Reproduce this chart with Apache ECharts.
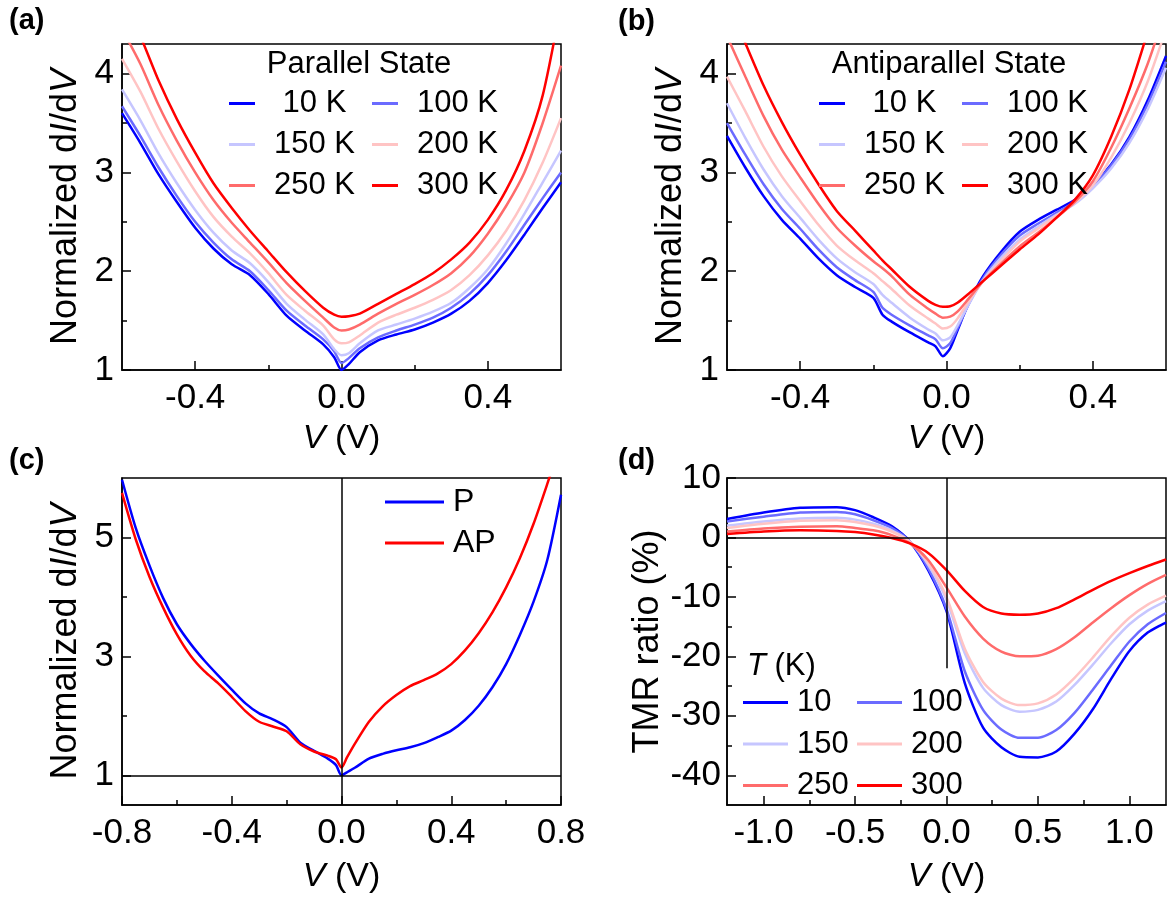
<!DOCTYPE html>
<html><head><meta charset="utf-8">
<script src="https://cdn.jsdelivr.net/npm/echarts@6/dist/echarts.min.js"></script>
<style>html,body{margin:0;padding:0;background:#fff}#c{width:1168px;height:902px}</style>
</head><body><div id="c"></div>
<script>
// ---------- data ----------
const TEMPS_K = [' 10 K', '100 K', '150 K', '200 K', '250 K', '300 K'];
const TEMPS_D = ['10', '100', '150', '200', '250', '300'];
const COLORS = ['#0000ff', '#6b6bff', '#c6c6ff', '#ffc4c4', '#ff6b6b', '#ff0000'];

// (a) Parallel state
const VA = [-0.6,-0.55,-0.5,-0.45,-0.4,-0.35,-0.3,-0.25,-0.2,-0.15,-0.1,-0.05,-0.02,0,0.02,0.05,0.1,0.15,0.2,0.25,0.3,0.35,0.4,0.45,0.5,0.55,0.6];
const P10  = [3.60,3.30,2.98,2.70,2.44,2.23,2.07,1.96,1.77,1.55,1.40,1.26,1.13,1.00,1.06,1.18,1.30,1.36,1.41,1.48,1.57,1.70,1.88,2.11,2.37,2.64,2.90];
const P100 = [3.67,3.37,3.05,2.76,2.50,2.29,2.12,2.00,1.81,1.60,1.45,1.31,1.19,1.07,1.12,1.22,1.33,1.40,1.46,1.53,1.63,1.77,1.96,2.20,2.47,2.74,3.00];
const P150 = [3.84,3.53,3.19,2.89,2.62,2.39,2.21,2.08,1.89,1.67,1.51,1.36,1.21,1.15,1.17,1.27,1.40,1.46,1.52,1.59,1.68,1.83,2.02,2.28,2.58,2.90,3.22];
const P200 = [4.15,3.82,3.44,3.11,2.81,2.55,2.35,2.18,1.98,1.76,1.60,1.45,1.31,1.27,1.28,1.35,1.48,1.56,1.63,1.71,1.81,1.96,2.16,2.41,2.72,3.10,3.55];
const P250 = [4.45,4.10,3.68,3.32,3.00,2.72,2.49,2.29,2.09,1.88,1.70,1.53,1.43,1.40,1.41,1.46,1.57,1.67,1.76,1.86,1.98,2.15,2.38,2.66,3.00,3.50,4.08];
const P300 = [4.75,4.38,3.93,3.54,3.20,2.89,2.64,2.41,2.20,1.99,1.80,1.63,1.56,1.54,1.545,1.57,1.67,1.77,1.87,1.98,2.12,2.29,2.52,2.82,3.22,3.78,4.70];

// (b) Antiparallel state
const VB = [-0.6,-0.55,-0.5,-0.45,-0.4,-0.35,-0.3,-0.25,-0.2,-0.175,-0.15,-0.1,-0.05,-0.03,-0.01,0.01,0.03,0.06,0.1,0.15,0.2,0.25,0.3,0.35,0.4,0.45,0.5,0.55,0.6];
const AP10  = [3.37,3.05,2.76,2.52,2.33,2.13,1.96,1.84,1.73,1.56,1.49,1.38,1.28,1.24,1.14,1.22,1.40,1.67,1.95,2.20,2.40,2.52,2.62,2.72,2.87,3.08,3.36,3.73,4.18];
const AP100 = [3.50,3.18,2.88,2.63,2.43,2.22,2.04,1.91,1.79,1.63,1.56,1.45,1.35,1.31,1.22,1.27,1.42,1.66,1.93,2.17,2.36,2.48,2.59,2.70,2.86,3.07,3.34,3.69,4.12];
const AP150 = [3.70,3.35,3.03,2.76,2.54,2.32,2.13,1.99,1.87,1.76,1.68,1.53,1.41,1.37,1.30,1.33,1.45,1.66,1.91,2.14,2.32,2.45,2.57,2.68,2.84,3.04,3.30,3.64,4.06];
const AP200 = [3.97,3.62,3.26,2.96,2.71,2.47,2.26,2.11,1.98,1.90,1.82,1.65,1.52,1.47,1.42,1.44,1.52,1.69,1.90,2.11,2.30,2.43,2.56,2.69,2.87,3.15,3.50,3.92,4.45];
const AP250 = [4.38,3.97,3.57,3.23,2.95,2.68,2.44,2.26,2.10,2.03,1.95,1.76,1.62,1.57,1.53,1.54,1.59,1.72,1.90,2.08,2.25,2.39,2.54,2.70,2.91,3.25,3.65,4.10,4.65];
const AP300 = [4.75,4.31,3.88,3.51,3.18,2.88,2.61,2.41,2.21,2.11,2.02,1.84,1.70,1.66,1.64,1.645,1.68,1.77,1.90,2.06,2.22,2.37,2.54,2.72,2.97,3.36,3.84,4.42,5.00];

// (c) P vs AP at 10 K
const VC = [-0.8,-0.75,-0.7,-0.65,-0.6,-0.55,-0.5,-0.45,-0.4,-0.35,-0.3,-0.25,-0.2,-0.15,-0.1,-0.05,-0.02,0,0.02,0.05,0.1,0.15,0.2,0.25,0.3,0.35,0.4,0.45,0.5,0.55,0.6,0.65,0.7,0.75,0.8];
const C_P  = [5.97,5.16,4.53,3.98,3.54,3.21,2.93,2.68,2.44,2.21,2.04,1.94,1.81,1.55,1.41,1.28,1.17,1.00,1.05,1.13,1.28,1.36,1.42,1.47,1.54,1.64,1.75,1.93,2.17,2.48,2.87,3.36,3.92,4.62,5.72];
const C_AP = [5.75,4.97,4.34,3.82,3.37,3.01,2.75,2.55,2.32,2.08,1.90,1.82,1.74,1.52,1.40,1.33,1.27,1.13,1.30,1.54,1.90,2.16,2.35,2.50,2.60,2.71,2.87,3.10,3.39,3.74,4.16,4.65,5.23,5.90,6.60];

// (d) TMR ratio (%)
const VD = [-1.2,-1.0,-0.8,-0.6,-0.5,-0.4,-0.3,-0.2,-0.1,0,0.1,0.2,0.3,0.4,0.5,0.6,0.7,0.8,0.9,1.0,1.1,1.2];
const TMR10  = [3.1,4.2,5.0,5.1,4.6,3.4,1.9,-0.7,-5.5,-12.4,-24.5,-32.0,-35.3,-36.9,-37.0,-36.0,-33.0,-28.9,-23.8,-19.1,-16.0,-14.3];
const TMR100 = [2.7,3.5,4.2,4.3,3.9,2.9,1.6,-0.7,-5.2,-12.0,-22.5,-29.0,-32.3,-33.7,-33.7,-32.4,-29.5,-25.6,-21.5,-17.5,-14.6,-12.7];
const TMR150 = [2.0,2.7,3.2,3.3,3.0,2.3,1.2,-0.7,-4.6,-10.5,-19.5,-25.3,-28.2,-29.3,-29.0,-27.6,-24.8,-21.4,-17.8,-14.6,-12.3,-10.7];
const TMR200 = [1.6,2.3,2.8,2.9,2.6,2.0,1.0,-0.7,-4.3,-10.0,-18.7,-24.3,-27.1,-28.2,-27.9,-26.4,-23.6,-20.2,-16.6,-13.5,-11.3,-9.8];
const TMR250 = [1.0,1.5,1.8,1.9,1.6,1.2,0.4,-1.0,-3.8,-8.4,-13.3,-17.0,-19.2,-20.0,-19.9,-18.8,-16.8,-14.3,-11.9,-9.7,-7.8,-6.3];
const TMR300 = [0.6,1.0,1.2,1.1,0.9,0.5,-0.1,-1.0,-2.6,-5.5,-9.0,-11.7,-12.8,-13.0,-12.8,-11.9,-10.4,-8.8,-7.3,-6.0,-4.8,-3.7];

// ticks
const TICK_AB_X = [-0.4, 0, 0.4], TICK_AB_XM = [-0.2, 0.2];
const TICK_AB_Y = [1, 2, 3, 4],   TICK_AB_YM = [1.5, 2.5, 3.5];
const TICK_C_X = [-0.8, -0.4, 0, 0.4, 0.8], TICK_C_XM = [-0.6, -0.2, 0.2, 0.6];
const TICK_C_Y = [1, 3, 5], TICK_C_YM = [2, 4];
const TICK_D_X = [-1, -0.5, 0, 0.5, 1], TICK_D_XM = [-0.75, -0.25, 0.25, 0.75];
const TICK_D_Y = [-40, -30, -20, -10, 0, 10], TICK_D_YM = [-35, -25, -15, -5, 5];

// ---------- chart ----------
const FONT = "'Liberation Sans', Arial, Helvetica, sans-serif";
const grids = [
  {left: 122, top: 44, width: 439, height: 326},
  {left: 727, top: 44, width: 439, height: 326},
  {left: 122, top: 478, width: 439, height: 327},
  {left: 727, top: 478, width: 439, height: 327}
].map(g => Object.assign(g, {show: true, borderColor: '#000', borderWidth: 1.5, backgroundColor: 'transparent'}));

const xAxis = [], yAxis = [];
const blk = '#000';
function addAxes(gi, xr, xMaj, xMin, xDec, xGap, yr, yMaj, yMin, yName, yGap, yMargin) {
  xAxis.push({
    type: 'value', gridIndex: gi, min: xr[0], max: xr[1], position: 'bottom',
    name: '{i|V} (V)', nameLocation: 'middle', nameGap: xGap,
    nameTextStyle: {fontSize: 34, fontFamily: FONT, color: blk, rich: {i: {fontStyle: 'italic', fontSize: 34, fontFamily: FONT, color: blk}}},
    axisLine: {show: true, onZero: false, lineStyle: {color: blk, width: 1.5}},
    axisTick: {show: true, inside: true, length: 9, customValues: xMaj, lineStyle: {color: blk, width: 1.5}},
    axisLabel: {show: true, customValues: xMaj, margin: 11, fontSize: 35, fontFamily: FONT, color: blk, formatter: v => v.toFixed(xDec)},
    splitLine: {show: false}
  });
  xAxis.push({
    type: 'value', gridIndex: gi, min: xr[0], max: xr[1], position: 'bottom',
    axisLine: {show: false, onZero: false},
    axisTick: {show: true, inside: true, length: 5, customValues: xMin, lineStyle: {color: blk, width: 1.5}},
    axisLabel: {show: false}, splitLine: {show: false}
  });
  yAxis.push({
    type: 'value', gridIndex: gi, min: yr[0], max: yr[1], position: 'left',
    name: yName, nameLocation: 'middle', nameGap: yGap,
    nameTextStyle: {fontSize: 36, fontFamily: FONT, color: blk, rich: {i: {fontStyle: 'italic', fontSize: 36, fontFamily: FONT, color: blk}}},
    axisLine: {show: true, onZero: false, lineStyle: {color: blk, width: 1.5}},
    axisTick: {show: true, inside: true, length: 9, customValues: yMaj, lineStyle: {color: blk, width: 1.5}},
    axisLabel: {show: true, customValues: yMaj, margin: yMargin, fontSize: 35, fontFamily: FONT, color: blk, formatter: v => String(v)},
    splitLine: {show: false}
  });
  yAxis.push({
    type: 'value', gridIndex: gi, min: yr[0], max: yr[1], position: 'left',
    axisLine: {show: false, onZero: false},
    axisTick: {show: true, inside: true, length: 5, customValues: yMin, lineStyle: {color: blk, width: 1.5}},
    axisLabel: {show: false}, splitLine: {show: false}
  });
}
const DIDV = 'Normalized d{i|I}/d{i|V}';
addAxes(0, [-0.6, 0.6], TICK_AB_X, TICK_AB_XM, 1, 52, [1, 4.3], TICK_AB_Y, TICK_AB_YM, DIDV, 38, 8);
addAxes(1, [-0.6, 0.6], TICK_AB_X, TICK_AB_XM, 1, 52, [1, 4.3], TICK_AB_Y, TICK_AB_YM, DIDV, 38, 8);
addAxes(2, [-0.8, 0.8], TICK_C_X, TICK_C_XM, 1, 55, [0.5, 6], TICK_C_Y, TICK_C_YM, DIDV, 38, 8);
addAxes(3, [-1.2, 1.2], TICK_D_X, TICK_D_XM, 1, 55, [-45, 10], TICK_D_Y, TICK_D_YM, 'TMR ratio (%)', 60, 6);

const zip = (xs, ys) => xs.map((x, i) => [x, ys[i]]);
function line(name, gi, xs, ys, color, width) {
  return {
    type: 'line', name, xAxisIndex: gi * 2, yAxisIndex: gi * 2,
    data: zip(xs, ys), symbol: 'none', showSymbol: false, smooth: 0.25, clip: true,
    lineStyle: {color, width: width || 2.5}, itemStyle: {color}, silent: true
  };
}
const series = [];
[P10, P100, P150, P200, P250, P300].forEach((d, i) => series.push(line(TEMPS_K[i], 0, VA, d, COLORS[i])));
[AP10, AP100, AP150, AP200, AP250, AP300].forEach((d, i) => series.push(line(TEMPS_K[i], 1, VB, d, COLORS[i])));
const sP = line('P', 2, VC, C_P, '#0000ff', 2.5);
const sAP = line('AP', 2, VC, C_AP, '#ff0000', 2.5);
const refLine = {symbol: ['none', 'none'], silent: true, label: {show: false}, lineStyle: {color: '#000', width: 1.5, type: 'solid'}, animation: false};
sP.markLine = Object.assign({data: [{xAxis: 0}, {yAxis: 1}]}, refLine);
series.push(sP, sAP);
[TMR10, TMR100, TMR150, TMR200, TMR250, TMR300].forEach((d, i) => series.push(line(TEMPS_D[i], 3, VD, d, COLORS[i])));
series[series.length - 6].markLine = Object.assign({data: [{yAxis: 0}, [{coord: [0, 10]}, {coord: [0, -22]}]]}, refLine);

function legend(left, top, names, itemWidth, fs, pad, gap) {
  return {
    orient: 'vertical', left, top, padding: 0, itemGap: gap, itemWidth, itemHeight: 3,
    icon: 'rect', selectedMode: false, data: names,
    formatter: n => '{t|' + n + '}',
    textStyle: {rich: {t: {fontSize: fs, fontFamily: FONT, color: blk, padding: [0, 0, 0, pad]}}}
  };
}
const legends = [
  legend(229, 88, [TEMPS_K[0], TEMPS_K[2], TEMPS_K[4]], 26, 31, 14, 10),
  legend(372, 88, [TEMPS_K[1], TEMPS_K[3], TEMPS_K[5]], 26, 31, 14, 10),
  legend(819, 88, [TEMPS_K[0], TEMPS_K[2], TEMPS_K[4]], 26, 31, 14, 10),
  legend(962, 88, [TEMPS_K[1], TEMPS_K[3], TEMPS_K[5]], 26, 31, 14, 10),
  legend(385, 486, ['P', 'AP'], 59, 32, 4, 9),
  legend(743, 687, [TEMPS_D[0], TEMPS_D[2], TEMPS_D[4]], 45, 31, 4, 10.5),
  legend(857, 687, [TEMPS_D[1], TEMPS_D[3], TEMPS_D[5]], 45, 31, 4, 10.5)
];

function txt(x, y, text, fs, weight, align, rich) {
  return {type: 'text', x, y, silent: true, style: {
    text, fontSize: fs, fontWeight: weight || 'normal', fontFamily: FONT, fill: blk,
    align: align || 'left', textAlign: align || 'left', verticalAlign: 'middle', textVerticalAlign: 'middle', rich
  }};
}
const graphic = [
  txt(9, 21, '(a)', 29, 'bold'),
  txt(618, 22, '(b)', 29, 'bold'),
  txt(9, 461, '(c)', 29, 'bold'),
  txt(618, 461, '(d)', 29, 'bold'),
  txt(359, 64, 'Parallel State', 31, 'normal', 'center'),
  txt(949, 64, 'Antiparallel State', 31, 'normal', 'center'),
  txt(747, 666, '{i|T} (K)', 31, 'normal', 'left', {i: {fontStyle: 'italic', fontSize: 31, fontFamily: FONT, fill: blk}})
];

const chart = echarts.init(document.getElementById('c'), null, {renderer: 'canvas'});
chart.setOption({
  animation: false, backgroundColor: '#fff',
  textStyle: {fontFamily: FONT, color: blk},
  grid: grids, xAxis, yAxis, series, legend: legends, graphic
});
</script></body></html>
